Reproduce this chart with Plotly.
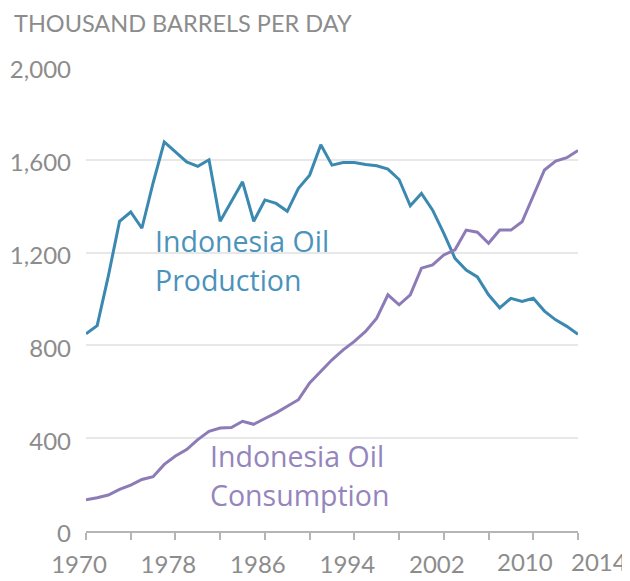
import plotly.graph_objects as go

years = list(range(1970, 2015))
production = [850, 885, 1100, 1335, 1375, 1305, 1500, 1677, 1634, 1591, 1572, 1600,
              1335, 1420, 1505, 1335, 1427, 1412, 1378, 1477, 1534, 1665, 1577, 1588,
              1588, 1580, 1574, 1560, 1515, 1402, 1455, 1383, 1283, 1175, 1125, 1095,
              1018, 962, 1003, 989, 1003, 948, 910, 882, 848]
consumption = [135, 143, 155, 179, 198, 222, 234, 287, 323, 351, 394, 430,
               444, 446, 473, 460, 485, 509, 538, 566, 638, 688, 738, 781,
               817, 860, 917, 1018, 975, 1018, 1133, 1147, 1190, 1212, 1297, 1288,
               1240, 1297, 1297, 1333, 1448, 1556, 1594, 1609, 1640]

tick_years = list(range(1970, 2015, 4))
label_years = [1970, 1978, 1986, 1994, 2002]
extra_labels = ["2010", "2014"]
extra_label_years = [2010, 2014]
y_ticks = [0, 400, 800, 1200, 1600, 2000]
y_ticktext = ["0", "400", "800", "1,200", "1,600", "2,000"]
prod_label = ["Indonesia Oil", "Production"]
cons_label = ["Indonesia Oil", "Consumption"]

FONT = "Lato"
ANN_FONT = "Open Sans"
GRAY = "#8c8c8c"
PROD_C = "#3b89b0"
CONS_C = "#8d7bb7"
TS = 24

# page has an 8px body margin; figure is offset by 8px
W, H = 622, 573
L, R, T, B = 78, 52, 59, 50
PW, PH = W - L - R, H - T - B

fig = go.Figure()
fig.add_trace(go.Scatter(x=years, y=production, mode="lines",
                         line=dict(color=PROD_C, width=3), cliponaxis=False,
                         name="Production"))
fig.add_trace(go.Scatter(x=years, y=consumption, mode="lines",
                         line=dict(color=CONS_C, width=3), cliponaxis=False,
                         name="Consumption"))

fig.update_layout(
    width=W, height=H,
    margin=dict(l=L, r=R, t=T, b=B, autoexpand=False),
    plot_bgcolor="white", paper_bgcolor="white",
    showlegend=False,
    font=dict(family=FONT, color=GRAY, size=TS),
    xaxis=dict(range=[1970, 2014], tickvals=tick_years, automargin=False,
               ticktext=[str(y) if y in label_years else "" for y in tick_years],
               ticks="outside", ticklen=7, tickwidth=1.5, tickcolor="#b5b5b5",
               showline=True, linecolor="#b5b5b5", linewidth=2,
               showgrid=False, zeroline=False, ticklabelshift=-7,
               ticklabelstandoff=4,
               tickfont=dict(family=FONT, size=TS, color=GRAY)),
    yaxis=dict(range=[0, 2000], tickvals=y_ticks, ticktext=y_ticktext,
               automargin=False,
               showgrid=True, gridcolor="#e8e8e8", gridwidth=1.5,
               zeroline=False, showline=False, ticks="",
               ticklabelstandoff=14, ticklabelshift=3,
               tickfont=dict(family=FONT, size=TS, color=GRAY)),
)

annotations = [
    dict(text="THOUSAND BARRELS PER DAY", xref="paper", yref="paper",
         x=(4 - L) / PW, y=1 + (T - 15) / PH, xanchor="left", yanchor="middle",
         showarrow=False, font=dict(family=FONT, size=23.5, color=GRAY)),
]
for lines, (ax, ay), col in [(prod_label, (1976.0, 1168), "#4b93bb"),
                             (cons_label, (1980.9, 241), "#9585bd")]:
    for i, txt in enumerate(lines):
        annotations.append(dict(text=txt, x=ax, y=ay, xanchor="left",
                                yanchor="middle", showarrow=False,
                                yshift=19.5 - 39 * i,
                                font=dict(family=ANN_FONT, size=28.5, color=col)))
shifts = [-8, 21]
for lbl, yr, sh in zip(extra_labels, extra_label_years, shifts):
    annotations.append(dict(text=lbl, x=yr, y=0, xref="x", yref="y",
                            yanchor="top", yshift=-14, xshift=sh,
                            showarrow=False,
                            font=dict(family=FONT, size=TS, color=GRAY)))
fig.update_layout(annotations=annotations)

fig.write_html("out.html")
